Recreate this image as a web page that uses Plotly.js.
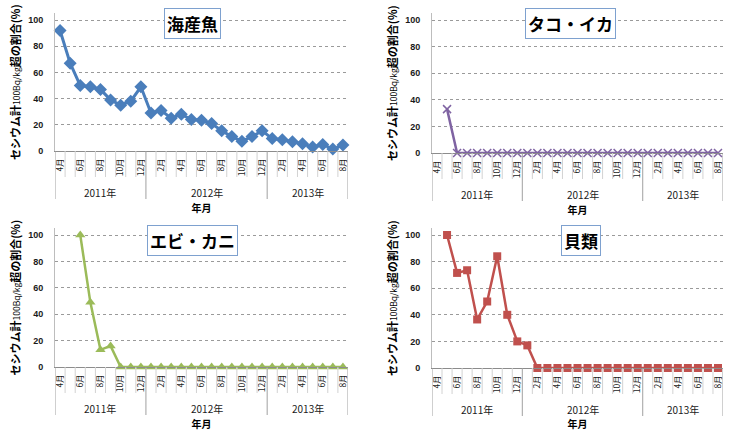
<!DOCTYPE html>
<html>
<head>
<meta charset="utf-8">
<script src="https://cdn.plot.ly/plotly-3.0.1.min.js"></script>
<style>
html, body { margin: 0; padding: 0; background: #fff; }
#chart { width: 741px; height: 431px; }
</style>
</head>
<body>
<div id="chart"></div>
<script>
// 2011年4月 〜 2013年8月 (月ごと)
const yearNames = ["2011年", "2012年", "2013年"];
const months2011 = [4, 5, 6, 7, 8, 9, 10, 11, 12];
const months2012 = [1, 2, 3, 4, 5, 6, 7, 8, 9, 10, 11, 12];
const months2013 = [1, 2, 3, 4, 5, 6, 7, 8];

// セシウム計100Bq/kg超の割合(%)
const kaisangyo = [92, 67, 50, 49, 47, 39, 35, 38, 49,
    29, 31, 25, 28, 24, 23.5, 21, 15.5, 11, 7.5, 11, 15.5,
    9.5, 8.5, 7, 5.5, 3, 5, 1.5, 4.5];
const takoIka = [null, 33, 0, 0, 0, 0, 0, 0, 0,
    0, 0, 0, 0, 0, 0, 0, 0, 0, 0, 0, 0,
    0, 0, 0, 0, 0, 0, 0, 0];
const ebiKani = [null, null, 100, 49, 13, 16, 0, 0, 0,
    0, 0, 0, 0, 0, 0, 0, 0, 0, 0, 0, 0,
    0, 0, 0, 0, 0, 0, 0, 0];
const kairui = [null, 100, 71.5, 73.5, 36.5, 50, 84, 40, 20,
    17, 0, 0, 0, 0, 0, 0, 0, 0, 0, 0, 0,
    0, 0, 0, 0, 0, 0, 0, 0];

const W = 741, H = 431;
const monthGroups = [months2011, months2012, months2013];
const months = monthGroups.flat();
const xs = months.map((_, i) => i);
const tickIdx = xs.filter(i => months[i] % 2 === 0);
const tickText = tickIdx.map(i => months[i] + "月");

// 年の境目 (カテゴリ番号)
const yearStarts = [];
let acc = 0;
monthGroups.forEach(g => { yearStarts.push(acc); acc += g.length; });
yearStarts.push(acc);

const FONT = "Liberation Sans, Noto Sans CJK JP, sans-serif";
const JFONT = "Noto Sans CJK JP, Liberation Sans, sans-serif";

const panels = [
    { name: "海産魚", data: kaisangyo, color: "#4A7EBB", symbol: "diamond", size: 10, lw: 3,
      xdom: [55 / W, 348 / W], y0: 151, y100: 20, tx: 192, ty: 23 },
    { name: "タコ・イカ", data: takoIka, color: "#7F63A2", symbol: "x-thin", size: 8, lw: 2.5,
      xdom: [432 / W, 723 / W], y0: 153, y100: 20, tx: 570, ty: 23 },
    { name: "エビ・カニ", data: ebiKani, color: "#9BBB59", symbol: "triangle-up", size: 9, lw: 2.5,
      xdom: [55 / W, 348 / W], y0: 367, y100: 235, tx: 192, ty: 240 },
    { name: "貝類", data: kairui, color: "#C0504D", symbol: "square", size: 8, lw: 2.5,
      xdom: [432 / W, 723 / W], y0: 368, y100: 235, tx: 581, ty: 240 }
];

const YMAX = 105;
const traces = [];
const shapes = [];
const annotations = [];
const layout = {
    width: W, height: H,
    margin: { l: 0, r: 0, t: 0, b: 0 },
    paper_bgcolor: "#fff", plot_bgcolor: "#fff",
    showlegend: false,
    font: { family: FONT, color: "#1a1a1a" }
};

panels.forEach((p, k) => {
    const n = k === 0 ? "" : String(k + 1);
    const xid = "x" + n, yid = "y" + n;
    const pxPerUnit = (p.y0 - p.y100) / 100;
    const top = p.y0 - YMAX * pxPerUnit;
    const ydom = [1 - p.y0 / H, 1 - top / H];
    const plotH = p.y0 - top;
    const below = px => -px / plotH;

    const isX = p.symbol === "x-thin";
    traces.push({
        x: xs, y: p.data, type: "scatter", mode: "lines+markers",
        xaxis: xid, yaxis: yid, cliponaxis: false, connectgaps: false,
        line: { color: p.color, width: p.lw },
        marker: isX
            ? { symbol: p.symbol, size: p.size, color: p.color, line: { color: p.color, width: 1.5 } }
            : { symbol: p.symbol, size: p.size, color: p.color }
    });

    layout["xaxis" + n] = {
        domain: p.xdom, anchor: yid, range: [-0.5, months.length - 0.5],
        tickmode: "array", tickvals: tickIdx, ticktext: tickText, tickangle: -90,
        ticks: "outside", ticklen: 3, tickcolor: "rgba(0,0,0,0)",
        tickfont: { family: JFONT, size: 8.5, color: "#1a1a1a" },
        showgrid: false, zeroline: false,
        showline: true, linecolor: "#8c8c8c", linewidth: 1,
        title: { text: "年月", font: { family: JFONT, size: 10, weight: "bold", color: "#000" }, standoff: 29 }
    };
    layout["yaxis" + n] = {
        domain: ydom, anchor: xid, range: [0, YMAX],
        tickmode: "array", tickvals: [0, 20, 40, 60, 80, 100],
        ticks: "outside", ticklen: 9, tickcolor: "rgba(0,0,0,0)",
        tickfont: { family: FONT, size: 9, weight: "bold", color: "#1a1a1a" },
        showgrid: true, gridcolor: "#9a9a9a", griddash: "dot", gridwidth: 1,
        zeroline: false, showline: true, linecolor: "#bdbdbd", linewidth: 1,
        title: {
            text: 'セシウム計<span style="font-size:8.5px;font-weight:normal">100Bq/kg</span>超の割合(%)',
            font: { family: JFONT, size: 11, weight: "bold", color: "#000" }, standoff: 5
        }
    };

    // カテゴリの区切り線
    for (let b = 0; b <= months.length; b++) {
        const isYear = yearStarts.includes(b);
        shapes.push({
            type: "line", xref: xid, yref: yid + " domain",
            x0: b - 0.5, x1: b - 0.5, y0: 0, y1: below(isYear ? 48 : 26),
            line: { color: isYear ? "#a0a0a0" : "#d2d2d2", width: 1 }
        });
    }
    // 年ラベル
    yearNames.forEach((yn, j) => {
        annotations.push({
            text: yn, xref: xid, yref: yid + " domain",
            x: (yearStarts[j] + yearStarts[j + 1] - 1) / 2, y: below(41),
            showarrow: false, yanchor: "middle",
            font: { family: JFONT, size: 10, color: "#1a1a1a" }
        });
    });
    // グラフタイトル
    annotations.push({
        text: "<b>" + p.name + "</b>", xref: "paper", yref: "paper",
        x: p.tx / W, y: 1 - p.ty / H, xanchor: "center", yanchor: "middle",
        showarrow: false, bgcolor: "#fff", bordercolor: "#7ea1cf", borderwidth: 1, borderpad: 2,
        font: { family: JFONT, size: 17, color: "#000" }
    });
});

layout.shapes = shapes;
layout.annotations = annotations;

Plotly.newPlot("chart", traces, layout, { displayModeBar: false, staticPlot: true });
</script>
</body>
</html>
